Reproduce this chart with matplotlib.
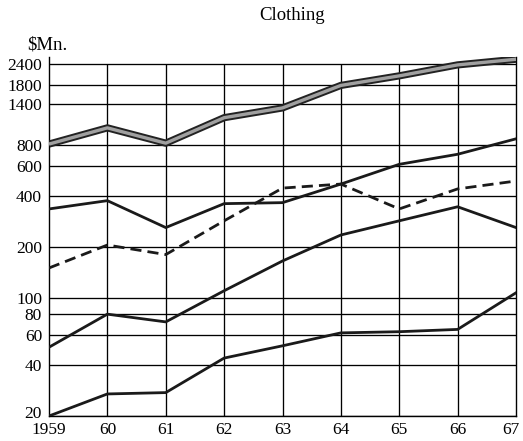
import matplotlib
matplotlib.use("Agg")
import matplotlib.pyplot as plt
import matplotlib.transforms as mtransforms
from matplotlib.ticker import FixedLocator, NullLocator

years = [1959, 1960, 1961, 1962, 1963, 1964, 1965, 1966, 1967]
year_labels = ["1959", "60", "61", "62", "63", "64", "65", "66", "67"]
y_ticks = [20, 40, 60, 80, 100, 200, 400, 600, 800, 1400, 1800, 2400]

total = [810, 1010, 820, 1160, 1325, 1800, 2050, 2380, 2570]
series_a = [335, 375, 260, 360, 365, 470, 615, 705, 870]
series_dashed = [150, 205, 180, 285, 445, 470, 335, 440, 490]
series_b = [51, 80, 72, 110, 165, 235, 285, 345, 260]
series_c = [20, 27, 27.5, 44, 52, 62, 63, 65, 107]

plt.rcParams['font.family'] = ['Liberation Serif', 'DejaVu Serif']

fig = plt.figure(figsize=(5.23, 4.41), dpi=100)
ax = fig.add_axes([49/523, 25/441, (516-49)/523, (416-57)/441])
ax.set_yscale('log')
ax.set_xlim(1959, 1967)
ax.set_ylim(20, 2650)

for v in y_ticks:
    ax.axhline(v, color='black', lw=0.95, zorder=1)
ax.vlines(years[1:-1], 20, y_ticks[-1], color='black', lw=0.95, zorder=1)

# thick stippled total line
ax.plot(years, total, color='#222222', lw=5.2, zorder=3, solid_capstyle='butt')
ax.plot(years, total, color='#a0a0a0', lw=2.4, zorder=4, solid_capstyle='butt')

ax.plot(years, series_a, color='#1a1a1a', lw=2.0, zorder=3)
ax.plot(years, series_dashed, color='#1a1a1a', lw=2.0, zorder=3, dashes=(4, 2.2))
ax.plot(years, series_b, color='#1a1a1a', lw=2.0, zorder=3)
ax.plot(years, series_c, color='#1a1a1a', lw=2.0, zorder=3)

ax.yaxis.set_major_locator(FixedLocator(y_ticks))
ax.yaxis.set_minor_locator(NullLocator())
ax.set_yticklabels([str(v) for v in y_ticks])
ax.set_xticks(years)
ax.set_xticklabels(year_labels)
ax.tick_params(axis='both', length=0, labelsize=12.5, colors='black')
ax.tick_params(axis='y', pad=5)
ax.tick_params(axis='x', pad=4)

# nudge the crowded corner labels
ylab = ax.get_yticklabels()[0]
ylab.set_transform(ylab.get_transform() + mtransforms.ScaledTranslation(0, 4/100, fig.dpi_scale_trans))
xlab = ax.get_xticklabels()[-1]
xlab.set_transform(xlab.get_transform() + mtransforms.ScaledTranslation(-5/100, 0, fig.dpi_scale_trans))

ax.spines['top'].set_visible(False)
for s in ['left', 'bottom', 'right']:
    ax.spines[s].set_linewidth(1.0)

fig.text(292/523, 1 - 15/441, "Clothing", ha='center', va='center', fontsize=13.5)
fig.text(27/523, 1 - 45/441, "$Mn.", ha='left', va='center', fontsize=13.5)

fig.savefig("out.png", dpi=100)
